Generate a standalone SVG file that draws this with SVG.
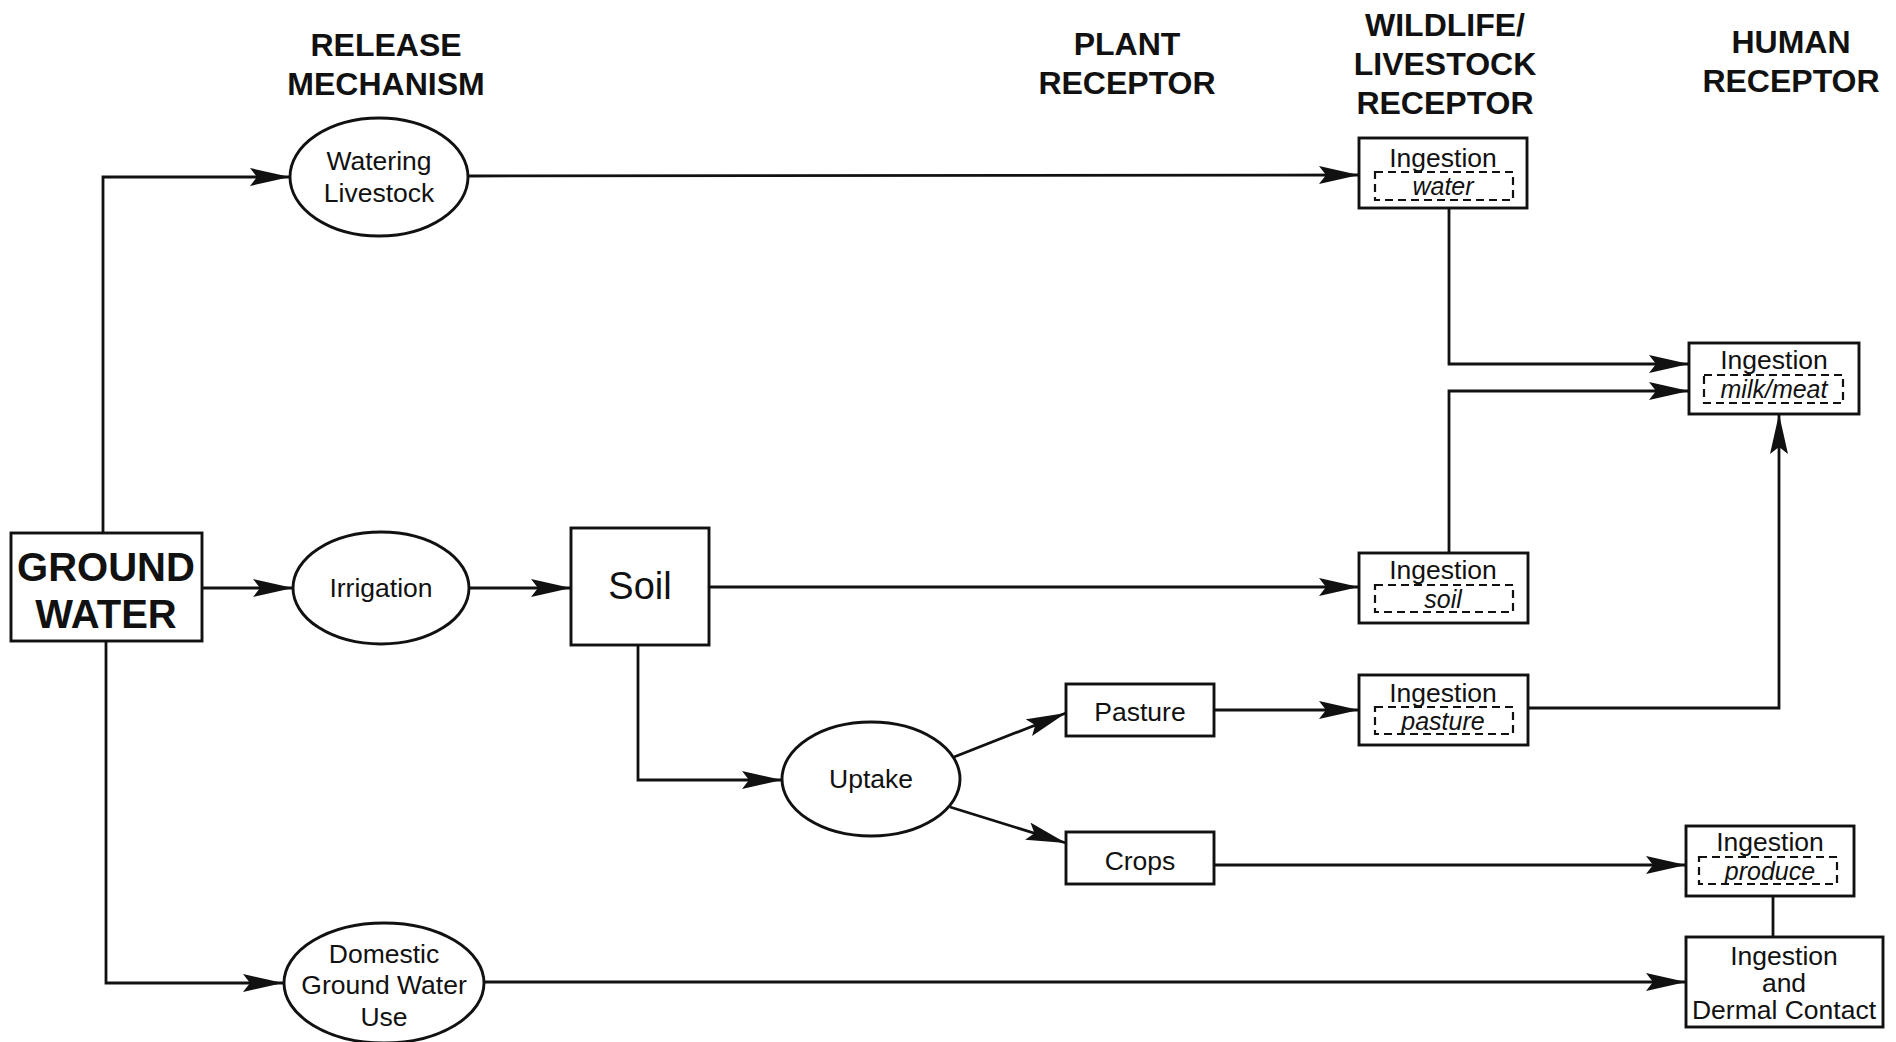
<svg xmlns="http://www.w3.org/2000/svg" width="1896" height="1042" viewBox="0 0 1896 1042">
<style>
.hdr{font-family:"Liberation Sans",Arial,sans-serif;font-weight:bold;font-size:32px;text-anchor:middle;dominant-baseline:central;fill:#111}
.lbl{font-family:"Liberation Sans",Arial,sans-serif;font-size:26.5px;text-anchor:middle;dominant-baseline:central;fill:#111}
.it{font-family:"Liberation Sans",Arial,sans-serif;font-style:italic;font-size:25px;text-anchor:middle;dominant-baseline:central;fill:#111}
.box{fill:#fff;stroke:#111;stroke-width:2.9}
.dash{fill:none;stroke:#111;stroke-width:2.2;stroke-dasharray:8 5}
.ln{fill:none;stroke:#111;stroke-width:2.8}
.arr{marker-end:url(#ah)}
</style>
<defs>
<marker id="ah" markerUnits="userSpaceOnUse" markerWidth="42" markerHeight="20" refX="40" refY="9" orient="auto">
<path d="M0,0 L40,9 L0,18 L7,9 z" fill="#111"/>
</marker>
</defs>
<rect width="1896" height="1042" fill="#fff"/>

<g id="headers">
<text class="hdr" x="386" y="45">RELEASE</text>
<text class="hdr" x="386" y="84">MECHANISM</text>
<text class="hdr" x="1127" y="44">PLANT</text>
<text class="hdr" x="1127" y="83">RECEPTOR</text>
<text class="hdr" x="1445" y="25">WILDLIFE/</text>
<text class="hdr" x="1445" y="64">LIVESTOCK</text>
<text class="hdr" x="1445" y="103">RECEPTOR</text>
<text class="hdr" x="1791" y="42">HUMAN</text>
<text class="hdr" x="1791" y="81">RECEPTOR</text>
</g>

<g id="connectors">
<path class="ln arr" d="M103,533 L103,177 L290,177"/>
<path class="ln arr" d="M202,588 L293,588"/>
<path class="ln arr" d="M106,641 L106,983 L283,983"/>
<path class="ln arr" d="M469,176 L1359,175"/>
<path class="ln arr" d="M469,588 L571,588"/>
<path class="ln arr" d="M709,587 L1359,587"/>
<path class="ln arr" d="M638,645 L638,780 L782,780"/>
<path class="ln arr" d="M954,757 L1066,713"/>
<path class="ln arr" d="M950,807 L1066,843"/>
<path class="ln arr" d="M1214,710 L1359,710"/>
<path class="ln arr" d="M1214,865 L1686,865"/>
<path class="ln arr" d="M484,982 L1686,982"/>
<path class="ln arr" d="M1449,208 L1449,364 L1689,364"/>
<path class="ln arr" d="M1449,553 L1449,391 L1689,391"/>
<path class="ln arr" d="M1528,708 L1779,708 L1779,414"/>
<path class="ln" d="M1773,896 L1773,937"/>
</g>

<g id="ground-water">
<rect class="box" x="11" y="533" width="191" height="108"/>
<text class="hdr" style="font-size:40px" x="106" y="567">GROUND</text>
<text class="hdr" style="font-size:40px" x="106" y="614">WATER</text>
</g>

<g id="watering-livestock">
<ellipse class="box" cx="379" cy="177" rx="89" ry="59"/>
<text class="lbl" x="379" y="161">Watering</text>
<text class="lbl" x="379" y="193">Livestock</text>
</g>

<g id="irrigation">
<ellipse class="box" cx="381" cy="588" rx="88" ry="56"/>
<text class="lbl" x="381" y="588">Irrigation</text>
</g>

<g id="domestic">
<ellipse class="box" cx="384" cy="983" rx="100" ry="60"/>
<text class="lbl" x="384" y="954">Domestic</text>
<text class="lbl" x="384" y="985">Ground Water</text>
<text class="lbl" x="384" y="1017">Use</text>
</g>

<g id="soil">
<rect class="box" x="571" y="528" width="138" height="117"/>
<text class="lbl" style="font-size:38px" x="640" y="586">Soil</text>
</g>

<g id="uptake">
<ellipse class="box" cx="871" cy="779" rx="89" ry="57"/>
<text class="lbl" x="871" y="779">Uptake</text>
</g>

<g id="pasture">
<rect class="box" x="1066" y="684" width="148" height="52"/>
<text class="lbl" x="1140" y="712">Pasture</text>
</g>

<g id="crops">
<rect class="box" x="1066" y="832" width="148" height="52"/>
<text class="lbl" x="1140" y="861">Crops</text>
</g>

<g id="ingestion-water">
<rect class="box" x="1359" y="138" width="168" height="70"/>
<rect class="dash" x="1375" y="172" width="138" height="28"/>
<text class="lbl" x="1443" y="158">Ingestion</text>
<text class="it" x="1443" y="186">water</text>
</g>

<g id="ingestion-soil">
<rect class="box" x="1359" y="553" width="169" height="70"/>
<rect class="dash" x="1375" y="585" width="138" height="27"/>
<text class="lbl" x="1443" y="570">Ingestion</text>
<text class="it" x="1443" y="599">soil</text>
</g>

<g id="ingestion-pasture">
<rect class="box" x="1359" y="675" width="169" height="70"/>
<rect class="dash" x="1375" y="707" width="138" height="27"/>
<text class="lbl" x="1443" y="693">Ingestion</text>
<text class="it" x="1443" y="721">pasture</text>
</g>

<g id="ingestion-milk-meat">
<rect class="box" x="1689" y="343" width="170" height="71"/>
<rect class="dash" x="1704" y="375" width="139" height="28"/>
<text class="lbl" x="1774" y="360">Ingestion</text>
<text class="it" x="1774" y="389">milk/meat</text>
</g>

<g id="ingestion-produce">
<rect class="box" x="1686" y="826" width="168" height="70"/>
<rect class="dash" x="1699" y="857" width="138" height="27"/>
<text class="lbl" x="1770" y="842">Ingestion</text>
<text class="it" x="1770" y="871">produce</text>
</g>

<g id="ingestion-dermal">
<rect class="box" x="1686" y="937" width="197" height="90"/>
<text class="lbl" x="1784" y="956">Ingestion</text>
<text class="lbl" x="1784" y="983">and</text>
<text class="lbl" x="1784" y="1010">Dermal Contact</text>
</g>
</svg>
